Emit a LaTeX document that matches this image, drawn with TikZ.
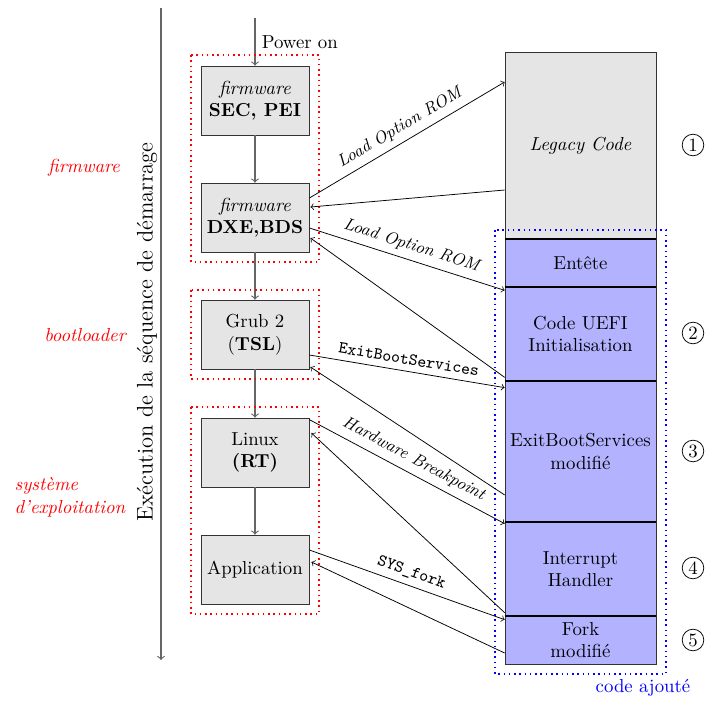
\documentclass[tikz,border=0pt]{standalone}
\usetikzlibrary{calc}
\tikzset{
  etape/.style={draw=black!80, fill=gray!20, minimum width=57.5pt, minimum height=36.7pt, align=center, inner sep=1pt},
  bloc/.style={draw=black!80, fill=blue!30, minimum width=80.3pt, align=center, inner sep=1pt},
  phase/.style={red, font=\itshape, align=center},
  zone/.style={red, dotted, thick},
  suite/.style={->, black!60, semithick},
  appel/.style={->},
  etiq/.style={font=\small\itshape, sloped, above, midway},
  num/.style={circle, draw, minimum size=11.5pt, inner sep=0pt}
}
\begin{document}
\begin{tikzpicture}[x=0.532pt, y=-0.532pt]
    \useasboundingbox (0,0) rectangle (705,701);

    % axe du temps
    \coordinate (haut) at (161,8);
    \coordinate (bas) at (161,660);
    \draw [suite] (haut)--(bas);
    \node [rotate=90, font=\large] (axe) at (147,332) {Exécution de la séquence de démarrage};

    \node [phase] (pfw) at (84,168) {firmware};
    \node [phase] (pbl) at (85,335) {bootloader};
    \node [phase, align=left, anchor=west] (pos) at (8,497) {système\\d’exploitation};

    % sequence de demarrage
    \node [etape] (sec) at (255,100.5) {\textit{firmware}\\\textbf{SEC, PEI}};
    \node [etape] (dxe) at (255,217.5) {\textit{firmware}\\\textbf{DXE,BDS}};
    \node [etape] (grub) at (255,334.5) {Grub 2\\(\textbf{TSL})};
    \node [etape] (linux) at (255,452.5) {Linux\\\textbf{(RT)}};
    \node [etape] (app) at (255,569.5) {Application};

    \coordinate (on) at (255,18);
    \draw [suite] (on)--(sec.north) node[midway,right,black] {Power on};
    \draw [suite] (sec)--(dxe);
    \draw [suite] (dxe)--(grub);
    \draw [suite] (grub)--(linux);
    \draw [suite] (linux)--(app);

    \draw [zone] (191,55) rectangle (319,262);
    \draw [zone] (191,290) rectangle (319,379);
    \draw [zone] (191,407) rectangle (319,614);

    % memoire
    \node [bloc, fill=gray!20, minimum height=99.5pt] (legacy) at (580.5,145.5) {\textit{Legacy Code}};
    \node [bloc, minimum height=25.5pt] (entete) at (580.5,263) {Entête};
    \node [bloc, minimum height=50pt] (uefi) at (580.5,334) {Code UEFI\\Initialisation};
    \node [bloc, minimum height=75pt] (exit) at (580.5,451.5) {ExitBootServices\\modifié};
    \node [bloc, minimum height=50pt] (irq) at (580.5,569) {Interrupt\\Handler};
    \node [bloc, minimum height=25.5pt] (fork) at (580.5,640) {Fork\\modifié};
    \foreach \b in {entete,uefi,exit,irq,fork}
        \draw [very thick] (\b.north west)--(\b.north east);

    \draw [blue, dotted, thick] (495,230) rectangle (666,674);
    \node [blue] (ajout) at (643,688) {code ajouté};

    \node [num] (n1) at (693,145) {1};
    \node [num] (n2) at (693,333) {2};
    \node [num] (n3) at (693,451) {3};
    \node [num] (n4) at (693,568) {4};
    \node [num] (n5) at (693,640) {5};

    % appels
    \draw [appel] ($(dxe.east)+(0,-19.5)$)--($(legacy.west)+(0,-63.5)$) node[etiq] {Load Option ROM};
    \draw [appel] ($(legacy.west)+(0,44.5)$)--($(dxe.east)+(1,-10.5)$);
    \draw [appel] ($(dxe.east)+(0,10.5)$)--($(entete.south west)+(0,3)$) node[etiq] {Load Option ROM};
    \draw [appel] ($(uefi.south west)+(0,-4)$)--($(dxe.east)+(1,20.5)$);

    \draw [appel] ($(grub.east)+(0,20.5)$)--($(exit.north west)+(0,7)$) node[etiq, font=\small\ttfamily] {ExitBootServices};
    \draw [appel] ($(exit.west)+(0,43.5)$)--($(grub.east)+(1,32.5)$);

    \draw [appel] ($(linux.north east)+(0,2)$)--($(irq.north west)+(0,2)$) node[etiq] {Hardware Breakpoint};
    \draw [appel] ($(fork.north west)+(0,-3)$)--($(linux.east)+(2,-19.5)$);

    \draw [appel] ($(app.east)+(0,-19.5)$)--($(fork.north west)+(0,4)$) node[etiq, font=\small\ttfamily] {SYS\_fork};
    \draw [appel] ($(fork.west)+(0,13)$)--($(app.east)+(2,-7.5)$);
\end{tikzpicture}
\end{document}
